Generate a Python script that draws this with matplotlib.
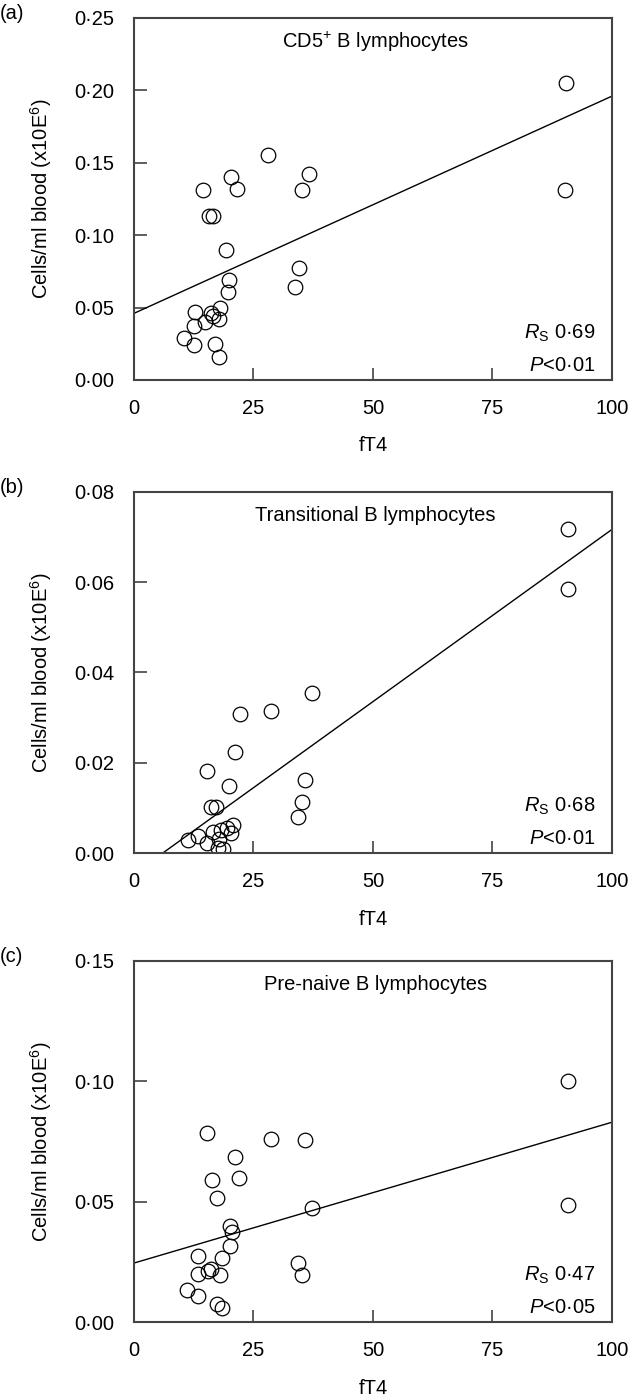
import matplotlib
matplotlib.use("Agg")
import matplotlib.pyplot as plt
import numpy as np

plt.rcParams['font.family'] = ['Liberation Sans', 'DejaVu Sans']
plt.rcParams['mathtext.fontset'] = 'custom'
plt.rcParams['mathtext.rm'] = 'Liberation Sans'
plt.rcParams['mathtext.it'] = 'Liberation Sans:italic'

# fT4 on the x axis, cell counts on the y axis
ft4_a = [90.3, 90.2, 28.0, 20.3, 21.5, 14.4, 36.7, 35.1, 15.7, 16.6, 19.3, 34.5, 33.6,
         19.9, 19.6, 12.8, 16.1, 18.0, 17.7, 14.8, 12.5, 16.6, 10.5, 12.6, 17.0, 17.8]
cd5_a = [0.205, 0.131, 0.155, 0.140, 0.132, 0.131, 0.142, 0.131, 0.113, 0.113, 0.090, 0.077, 0.064,
         0.069, 0.061, 0.047, 0.046, 0.050, 0.042, 0.040, 0.037, 0.044, 0.029, 0.024, 0.025, 0.016]

ft4_b = [90.9, 90.9, 37.3, 28.6, 22.1, 21.2, 15.2, 19.8, 35.8, 35.2, 34.3, 16.1, 17.1,
         20.8, 20.3, 11.2, 13.3, 15.2, 16.5, 18.2, 17.8, 17.6, 18.7, 19.4]
trans_b = [0.0719, 0.0585, 0.0354, 0.0315, 0.0307, 0.0224, 0.0182, 0.0149, 0.0162, 0.0113, 0.0080,
           0.0102, 0.0102, 0.0063, 0.0044, 0.0029, 0.0038, 0.0023, 0.0047, 0.0050, 0.0032, 0.0011,
           0.0008, 0.0055]

ft4_c = [90.9, 90.9, 15.2, 28.6, 35.8, 21.2, 16.4, 22.0, 17.3, 37.3, 20.0, 20.6, 20.0,
         13.3, 18.5, 16.1, 15.4, 13.3, 18.0, 34.3, 35.1, 11.1, 13.3, 17.3, 18.5]
prenaive_c = [0.1003, 0.0488, 0.0786, 0.0761, 0.0757, 0.0687, 0.0590, 0.0600, 0.0515, 0.0474,
              0.0400, 0.0375, 0.0317, 0.0276, 0.0265, 0.0220, 0.0213, 0.0200, 0.0195, 0.0245,
              0.0195, 0.0133, 0.0109, 0.0075, 0.0057]

# fitted lines: intercept, slope
line_a = (0.046, 0.00150)
line_b = (-0.0046, 0.000763)
line_c = (0.0245, 0.000585)

panel_letters = ['(a)', '(b)', '(c)']
titles = ['CD5$^{+}$ B lymphocytes', 'Transitional B lymphocytes', 'Pre-naive B lymphocytes']
rs_text = ['$R_{\\mathrm{S}}$ 0·69', '$R_{\\mathrm{S}}$ 0·68', '$R_{\\mathrm{S}}$ 0·47']
p_text = ['$P$<0·01', '$P$<0·01', '$P$<0·05']
x_ticks = [0, 25, 50, 75, 100]
x_ticklabels = ['0', '25', '50', '75', '100']
y_ticks = [[0, 0.05, 0.10, 0.15, 0.20, 0.25],
           [0, 0.02, 0.04, 0.06, 0.08],
           [0, 0.05, 0.10, 0.15]]
y_ticklabels = [['0·00', '0·05', '0·10', '0·15', '0·20', '0·25'],
                ['0·00', '0·02', '0·04', '0·06', '0·08'],
                ['0·00', '0·05', '0·10', '0·15']]

xs = [ft4_a, ft4_b, ft4_c]
ys = [cd5_a, trans_b, prenaive_c]
lines = [line_a, line_b, line_c]

fig = plt.figure(figsize=(6.3, 14), dpi=100)
# axes placement [left, bottom, width, height]
boxes = [[0.2127, 0.7286, 0.7587, 0.2586],
         [0.2127, 0.3907, 0.7587, 0.2579],
         [0.2127, 0.0557, 0.7587, 0.2579]]
fs = 14.5

for i in range(3):
    ax = fig.add_axes(boxes[i])
    ax.plot(xs[i], ys[i], 'o', mfc='none', mec='black', ms=10.5, mew=0.9)
    b0, b1 = lines[i]
    xx = np.array([0, 100])
    ax.plot(xx, b0 + b1 * xx, color='black', lw=1.0)
    ax.set_xlim(0, 100)
    ax.set_ylim(y_ticks[i][0], y_ticks[i][-1])
    ax.set_xticks(x_ticks)
    ax.set_xticklabels(x_ticklabels)
    ax.set_yticks(y_ticks[i])
    ax.set_yticklabels(y_ticklabels[i])
    ax.tick_params(direction='in', length=9, width=1.1, pad=14, labelsize=fs,
                   color='#333333')
    for s in ax.spines.values():
        s.set_linewidth(1.5)
        s.set_color('#444444')
    ax.set_xlabel('fT4', fontsize=fs, labelpad=13)
    ax.set_ylabel('Cells/ml blood (x10E$^{6}$)', fontsize=fs, labelpad=15)
    ax.text(0.505, 0.934, titles[i], transform=ax.transAxes, ha='center', va='center', fontsize=fs)
    ax.text(0.965, 0.13, rs_text[i], transform=ax.transAxes, ha='right', va='center', fontsize=fs)
    ax.text(0.965, 0.041, p_text[i], transform=ax.transAxes, ha='right', va='center', fontsize=fs)
    top = boxes[i][1] + boxes[i][3]
    fig.text(0.0, top + 0.003, panel_letters[i], ha='left', va='center', fontsize=fs)

fig.savefig('out.png', dpi=100)
